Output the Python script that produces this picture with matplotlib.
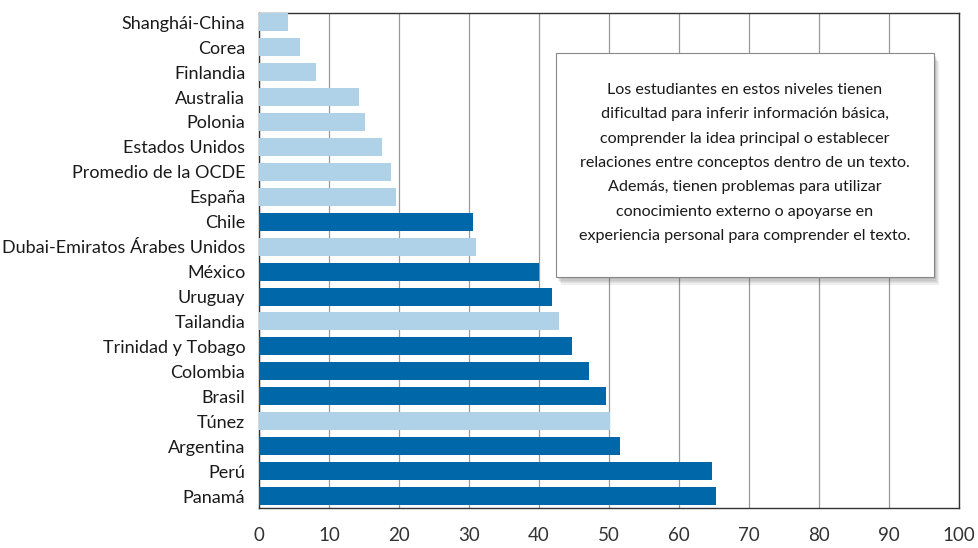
import matplotlib
matplotlib.use("Agg")
import matplotlib.pyplot as plt
from matplotlib.patches import Rectangle

# Datos
paises = ["Shanghái-China", "Corea", "Finlandia", "Australia", "Polonia",
          "Estados Unidos", "Promedio de la OCDE", "España", "Chile",
          "Dubai-Emiratos Árabes Unidos", "México", "Uruguay", "Tailandia",
          "Trinidad y Tobago", "Colombia", "Brasil", "Túnez", "Argentina",
          "Perú", "Panamá"]
porcentaje = [4.2, 5.9, 8.2, 14.3, 15.1, 17.6, 18.8, 19.6, 30.6, 31.0,
              40.0, 41.9, 42.8, 44.7, 47.1, 49.6, 50.1, 51.6, 64.7, 65.3]
latam = ["Chile", "México", "Uruguay", "Trinidad y Tobago", "Colombia",
         "Brasil", "Argentina", "Perú", "Panamá"]
ticks_x = list(range(0, 101, 10))

nota = ("Los estudiantes en estos niveles tienen\n"
        "dificultad para inferir información básica,\n"
        "comprender la idea principal o establecer\n"
        "relaciones entre conceptos dentro de un texto.\n"
        "Además, tienen problemas para utilizar\n"
        "conocimiento externo o apoyarse en\n"
        "experiencia personal para comprender el texto.")

plt.rcParams['font.family'] = ['Lato', 'DejaVu Sans']

azul = "#0068a8"
celeste = "#afd2e8"
colores = [azul if p in latam else celeste for p in paises]

fig = plt.figure(figsize=(9.79, 5.48), dpi=100)
ax = fig.add_axes([0.2646, 0.073, 0.715, 0.9033])

y = list(range(len(paises)))
ax.barh(y, porcentaje, height=0.72, color=colores, zorder=3)
ax.set_yticks(y)
ax.set_yticklabels(paises, fontsize=13, color="#1a1a1a")
ax.set_ylim(len(paises) - 1 + 0.48, -0.37)
ax.set_xlim(0, 100)
ax.set_xticks(ticks_x)
ax.set_xticklabels([str(t) for t in ticks_x], fontsize=13.5, color="#333333")
ax.tick_params(axis="y", length=0, pad=10)
ax.tick_params(axis="x", length=0, pad=14)
ax.grid(axis="x", color="#999999", linewidth=0.9, zorder=0)
for s in ax.spines.values():
    s.set_color("#333333")
    s.set_linewidth(1.0)

# Recuadro con sombra difusa
x0, y0, w, h = 0.424, 0.467, 0.540, 0.452
for i in range(6):
    d = 0.0012 * (i + 1)
    ax.add_patch(Rectangle((x0 + d, y0 - 2.2 * d), w, h, transform=ax.transAxes,
                           facecolor="#555555", edgecolor="none", alpha=0.09,
                           zorder=4))
caja = Rectangle((x0, y0), w, h, transform=ax.transAxes,
                 facecolor="white", edgecolor="#888888", linewidth=0.8, zorder=5)
ax.add_patch(caja)
ax.text(x0 + w / 2, y0 + h / 2 + 0.004, nota, transform=ax.transAxes,
        ha="center", va="center", fontsize=11.6, linespacing=1.95,
        color="#1a1a1a", zorder=6)

fig.savefig("out.png", dpi=100)
